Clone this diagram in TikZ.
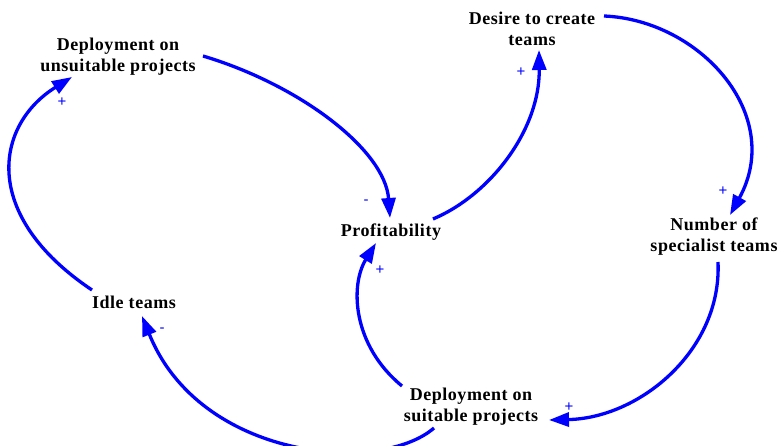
\documentclass[tikz,border=0pt]{standalone}
\usepackage{fontspec}
\setmainfont{Liberation Serif}
\setsansfont{Liberation Sans}
\newfontfamily\varfont[LetterSpace=3]{Liberation Serif}
\usetikzlibrary{arrows.meta}
\tikzset{
  var/.style={font=\varfont\bfseries\fontsize{18}{21}\selectfont, align=center, inner sep=0pt, text=black},
  link/.style={draw=blue, line width=3.3pt, -{Triangle[length=20pt,width=14pt]}},
  pol/.style={text=blue, font=\sffamily\fontsize{15}{15}\selectfont, inner sep=0pt}
}
\begin{document}
\begin{tikzpicture}[x=1pt,y=-1pt]
\useasboundingbox (0,0) rectangle (779,446);
% variables
\node[var] (dup) at (118,57) {Deployment on\\unsuitable projects};
\node[var] (des) at (532,29) {Desire to create\\teams};
\node[var] (prof) at (391,232) {Profitability};
\node[var] (num) at (714,237) {Number of\\specialist teams};
\node[var] (idle) at (134,302) {Idle teams};
\node[var] (dsp) at (471,407) {Deployment on\\suitable projects};
% connector end points
\coordinate (a1s) at (203,56);  \coordinate (a1e) at (390,218);
\coordinate (a2s) at (433,219); \coordinate (a2e) at (539,50);
\coordinate (a3s) at (604,16);  \coordinate (a3e) at (730,215);
\coordinate (a4s) at (718,262); \coordinate (a4e) at (549,420);
\coordinate (a5s) at (402,386); \coordinate (a5e) at (376,243);
\coordinate (a6s) at (434,428); \coordinate (a6e) at (142,316);
\coordinate (a7s) at (92,290);  \coordinate (a7e) at (72,77);
% connectors
\draw[link] (a1s) .. controls (300,85) and (385,150) .. (a1e);
\draw[link] (a2s) .. controls (490,195) and (540,130) .. (a2e);
\draw[link] (a3s) .. controls (700,20) and (785,115) .. (a3e);
\draw[link] (a4s) .. controls (722,350) and (640,418) .. (a4e);
\draw[link] (a5s) .. controls (352,345) and (350,285) .. (a5e);
\draw[link] (a6s) .. controls (380,475) and (200,460) .. (a6e);
\draw[link] (a7s) .. controls (-20,215) and (-5,125) .. (a7e);
% polarities
\node[pol] (p1) at (62,102) {+};
\node[pol] (p2) at (366,202) {-};
\node[pol] (p3) at (521,72) {+};
\node[pol] (p4) at (723,191) {+};
\node[pol] (p5) at (569,407) {+};
\node[pol] (p6) at (380,270) {+};
\node[pol] (p7) at (162,330) {-};
\end{tikzpicture}
\end{document}
